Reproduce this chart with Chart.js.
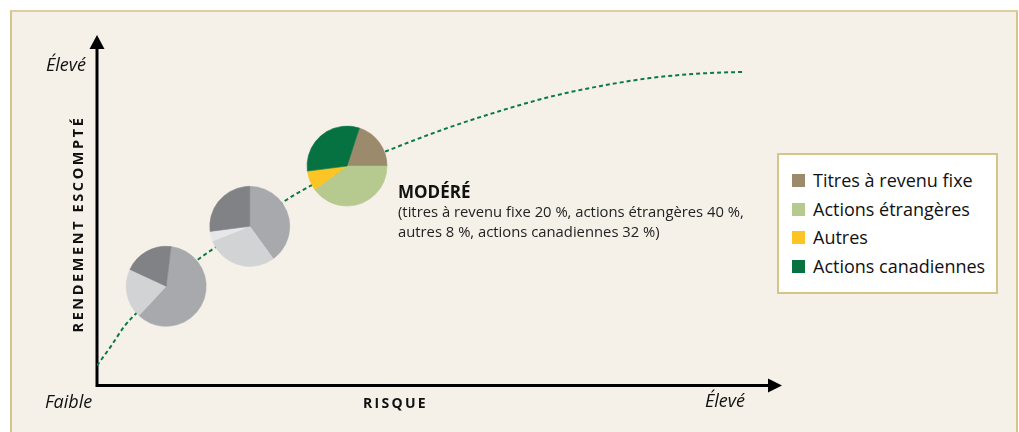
<!DOCTYPE html>
<html lang="fr">
<head>
<meta charset="utf-8">
<script src="https://cdn.jsdelivr.net/npm/chart.js@4.4.1/dist/chart.umd.min.js"></script>
<style>
body { margin: 0; background: #fff; font-family: "Open Sans", "Noto Sans", sans-serif; }
#wrap { position: relative; width: 1019px; height: 432px; overflow: hidden; }
#frame { position: absolute; left: 10px; top: 10px; width: 1004px; height: 440px; background: #f5f1e9; border: 2px solid #d6c48a; border-top-color: #dbcfa2; }
#chart { position: absolute; left: 0; top: 0; }
.lbl { position: absolute; white-space: nowrap; color: #111; line-height: 1; }
.it { font-style: italic; font-size: 18px; }
.caps { font-weight: bold; font-size: 14px; letter-spacing: 2.3px; }
#yTitle { left: 78px; top: 224px; font-size: 14.5px; letter-spacing: 2.6px; transform: translate(-50%, -50%) rotate(-90deg); }
.note { font-size: 14.8px; color: #222; }
#legend { position: absolute; left: 777px; top: 153px; width: 217px; height: 137px; background: #fff; border: 2px solid #d6c48a; }
#legend .sq { position: absolute; left: 13px; width: 13px; height: 13px; }
#legend .tx { position: absolute; left: 34px; font-size: 18px; color: #111; white-space: nowrap; line-height: 1; }
</style>
</head>
<body>
<div id="wrap">
  <div id="frame"></div>
  <canvas id="chart" width="1019" height="432"></canvas>
  <div class="lbl it" style="left:46px;top:55px;">Élevé</div>
  <div class="lbl caps" id="yTitle">RENDEMENT ESCOMPTÉ</div>
  <div class="lbl it" style="left:45px;top:392px;">Faible</div>
  <div class="lbl caps" style="left:363px;top:396px;">RISQUE</div>
  <div class="lbl it" style="left:705px;top:391px;">Élevé</div>
  <div class="lbl" style="left:398px;top:183px;font-size:17px;font-weight:bold;">MODÉRÉ</div>
  <div class="lbl note" style="left:398px;top:204px;">(titres à revenu fixe 20 %, actions étrangères 40 %,</div>
  <div class="lbl note" style="left:398px;top:224px;">autres 8 %, actions canadiennes 32 %)</div>
  <div id="legend"></div>
</div>
<script>
// categories of the portfolio
var categories = ["Titres à revenu fixe", "Actions étrangères", "Autres", "Actions canadiennes"];

// dashed risk / return curve (0-100 on both axes)
var curveX = [0, 2, 4, 6.3, 10, 15, 22.3, 29, 36.5, 42.3, 51.5, 58.8, 66, 73.4, 80.7, 88, 94.6];
var curveY = [5.7, 11.1, 16.9, 21.7, 28.3, 36.3, 45.7, 54.6, 62, 66.9, 73.7, 78.3, 82.3, 85.4, 87.7, 89, 89.5];

// three portfolios sitting on the curve
var pieX = [10.1, 22.3, 36.5];
var pieY = [28.3, 45.4, 62.6];
var pieTitres = [60, 40, 20];
var pieEtrangeres = [20, 29, 40];
var pieAutres = [0, 4, 8];
var pieCanadiennes = [20, 27, 32];
var pieStart = [7, 0, 18]; // degrees, clockwise from 12 o'clock
var highlighted = 2;

var colours = ["#9c8a6c", "#b6c98f", "#fcc425", "#077241"];
var greys = ["#a7a9ac", "#d1d3d4", "#e6e7e8", "#808285"];

// html legend
var legend = document.getElementById("legend");
categories.forEach(function (name, i) {
    var sq = document.createElement("div");
    sq.className = "sq";
    sq.style.top = (19 + i * 28.7) + "px";
    sq.style.background = colours[i];
    legend.appendChild(sq);
    var tx = document.createElement("div");
    tx.className = "tx";
    tx.style.top = (16 + i * 28.7) + "px";
    tx.textContent = name;
    legend.appendChild(tx);
});

var axesPlugin = {
    id: "axes",
    beforeDatasetsDraw: function (chart) {
        var a = chart.chartArea, ctx = chart.ctx;
        ctx.save();
        ctx.strokeStyle = "#000";
        ctx.lineWidth = 3;
        ctx.beginPath();
        ctx.moveTo(a.left, a.top + 12);
        ctx.lineTo(a.left, a.bottom);
        ctx.lineTo(a.right - 12, a.bottom);
        ctx.stroke();
        ctx.fillStyle = "#000";
        // arrow heads
        ctx.beginPath();
        ctx.moveTo(a.left, a.top);
        ctx.lineTo(a.left - 7.5, a.top + 14);
        ctx.lineTo(a.left + 7.5, a.top + 14);
        ctx.fill();
        ctx.beginPath();
        ctx.moveTo(a.right, a.bottom);
        ctx.lineTo(a.right - 14, a.bottom - 7);
        ctx.lineTo(a.right - 14, a.bottom + 7);
        ctx.fill();
        ctx.restore();
    }
};

var piePlugin = {
    id: "pies",
    afterDatasetsDraw: function (chart) {
        var meta = chart.getDatasetMeta(1), ctx = chart.ctx;
        var r = 40;
        ctx.save();
        meta.data.forEach(function (pt, i) {
            var parts = [pieTitres[i], pieEtrangeres[i], pieAutres[i], pieCanadiennes[i]];
            var total = parts.reduce(function (s, v) { return s + v; }, 0);
            var cols = i === highlighted ? colours : greys;
            var ang = (pieStart[i] - 90) * Math.PI / 180;
            parts.forEach(function (v, k) {
                if (!v) return;
                var next = ang + v / total * 2 * Math.PI;
                ctx.beginPath();
                ctx.moveTo(pt.x, pt.y);
                ctx.arc(pt.x, pt.y, r, ang, next);
                ctx.closePath();
                ctx.fillStyle = cols[k];
                ctx.strokeStyle = cols[k];
                ctx.lineWidth = 0.6;
                ctx.fill();
                ctx.stroke();
                ang = next;
            });
        });
        ctx.restore();
    }
};

new Chart(document.getElementById("chart"), {
    type: "scatter",
    data: {
        datasets: [
            {
                type: "line",
                data: curveX.map(function (x, i) { return { x: x, y: curveY[i] }; }),
                borderColor: "#0b7a45",
                borderWidth: 2,
                borderDash: [4, 3],
                pointRadius: 0,
                cubicInterpolationMode: "monotone",
                fill: false
            },
            {
                data: pieX.map(function (x, i) { return { x: x, y: pieY[i] }; }),
                pointRadius: 0
            }
        ]
    },
    options: {
        responsive: false,
        animation: false,
        layout: { padding: { left: 97, right: 237, top: 35, bottom: 46.5 } },
        plugins: { legend: { display: false }, tooltip: { enabled: false } },
        scales: {
            x: { type: "linear", min: 0, max: 100, display: false },
            y: { type: "linear", min: 0, max: 100, display: false }
        }
    },
    plugins: [axesPlugin, piePlugin]
});
</script>
</body>
</html>
